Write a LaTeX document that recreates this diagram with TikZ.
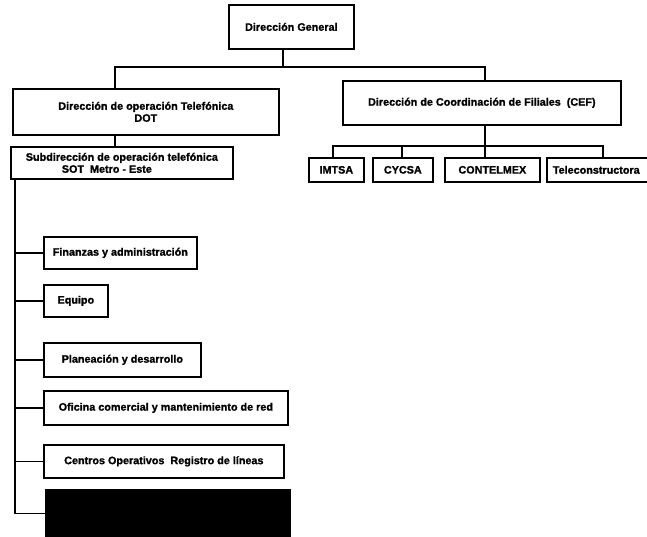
\documentclass[tikz,border=0pt]{standalone}
\usepackage{fontspec}
\setmainfont{Liberation Sans}[BoldFeatures={FakeBold=1.2}]
\begin{document}
\begin{tikzpicture}[x=1pt,y=-1pt,
  box/.style={draw=black,line width=1.7pt,fill=white,anchor=north west,inner sep=0pt,
    align=center,font=\bfseries\fontsize{10.8}{12}\selectfont},
  wire/.style={draw=black,line width=1.6pt}]
\useasboundingbox (0,0) rectangle (647,537);

% top level
\node[box,minimum width=125pt,minimum height=44pt] (dg) at (228,4) {Dirección General};

% second level
\node[box,minimum width=266pt,minimum height=46pt] (dot) at (12,88)
  {Dirección de operación Telefónica\\DOT};
\node[box,minimum width=278pt,minimum height=44pt] (cef) at (342,80)
  {Dirección de Coordinación de Filiales \ (CEF)};

% third level
\node[box,minimum width=222pt,minimum height=32pt] (sub) at (10,146)
  {Subdirección de operación telefónica\\SOT \ Metro - Este\hspace*{30pt}};

\node[box,minimum width=55pt,minimum height=24pt] (imt) at (308,157) {IMTSA};
\node[box,minimum width=60pt,minimum height=24pt] (cyc) at (372,157) {CYCSA};
\node[box,minimum width=95pt,minimum height=24pt] (con) at (444,157) {CONTELMEX};
\node[box,inner xsep=6pt,text width=107pt,align=left,minimum height=24pt] (tel) at (546,157)
  {Teleconstructora};

% departments under SOT
\node[box,minimum width=153pt,minimum height=32pt] (fin) at (43,236) {Finanzas y administración};
\node[box,minimum width=64pt,minimum height=32pt] (equ) at (43,284) {Equipo};
\node[box,minimum width=157pt,minimum height=34pt] (pla) at (43,342) {Planeación y desarrollo};
\node[box,minimum width=244pt,minimum height=34pt] (ofi) at (43,390) {Oficina comercial y mantenimiento de red};
\node[box,minimum width=240pt,minimum height=33pt] (cen) at (43,444) {Centros Operativos \ Registro de líneas};
\node[box,fill=black,minimum width=244pt,minimum height=47pt] (blk) at (45,489) {};

% junction points
\coordinate (b0) at (283,67);
\coordinate (bL) at (115,67);
\coordinate (bR) at (485,67);
\coordinate (fb) at (485,146);
\coordinate (f1) at (333,146);
\coordinate (f2) at (402,146);
\coordinate (f4) at (603,146);
\coordinate (sp) at (15,0);

% connectors
\draw[wire] (dg.south -| b0) -- (b0);
\draw[wire] (dot.north -| bL) |- (bR) -- (cef.north -| bR);
\draw[wire] (dot.south -| bL) -- (sub.north -| bL);

\draw[wire] (cef.south -| fb) -- (con.north -| fb);
\draw[wire] (imt.north -| f1) |- (f4) -- (tel.north -| f4);
\draw[wire] (cyc.north -| f2) -- (f2);

\draw[wire] (sub.south -| sp) |- (blk.west);
\draw[wire] (fin.west -| sp) -- (fin.west);
\draw[wire] (equ.west -| sp) -- (equ.west);
\draw[wire] (pla.west -| sp) -- (pla.west);
\draw[wire] (ofi.west -| sp) -- (ofi.west);
\draw[wire] (cen.west -| sp) -- (cen.west);
\end{tikzpicture}
\end{document}
